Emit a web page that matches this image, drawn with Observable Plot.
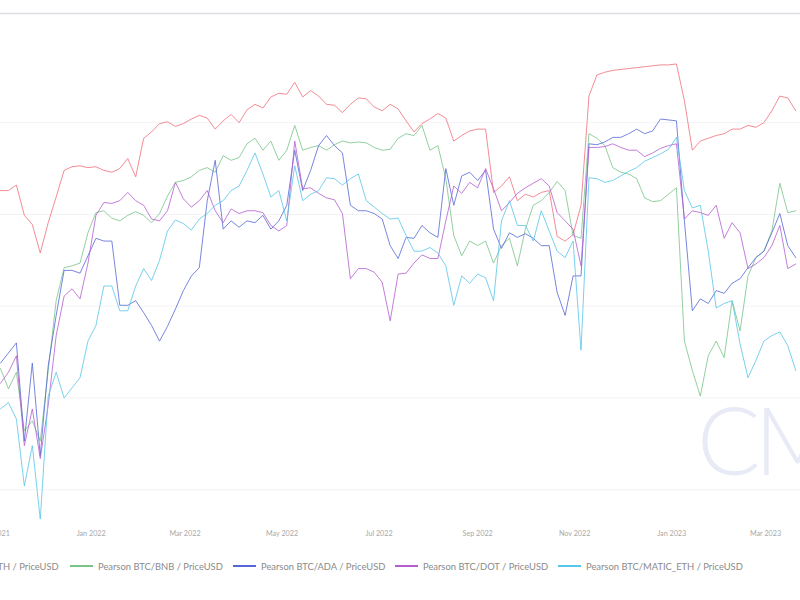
<!DOCTYPE html>
<html><head><meta charset="utf-8">
<script src="https://cdn.jsdelivr.net/npm/d3@7"></script>
<script src="https://cdn.jsdelivr.net/npm/@observablehq/plot@0.6"></script>
<style>
body{margin:0;background:#fff;font-family:Lato,"Open Sans",sans-serif;}
#wrap{position:relative;width:800px;height:600px;overflow:hidden;background:#fff;}
#chart{position:absolute;left:0;top:0;}
.wm{position:absolute;left:697px;top:392px;font-size:94px;line-height:1;font-weight:300;color:#e8eaf6;letter-spacing:-6px;font-family:Lato,sans-serif;pointer-events:none;}
.leg{position:absolute;top:560px;font-size:9.4px;color:#8a8a8a;white-space:nowrap;display:flex;align-items:center;height:12px;}
.leg i{display:inline-block;width:23px;height:2.5px;margin-right:5px;}
</style></head><body>
<div id="wrap"><div id="chart"></div><div class="wm">CM</div></div>
<script>
// Series names and colours
const seriesNames = [
  "Pearson BTC/ETH / PriceUSD",
  "Pearson BTC/BNB / PriceUSD",
  "Pearson BTC/ADA / PriceUSD",
  "Pearson BTC/DOT / PriceUSD",
  "Pearson BTC/MATIC_ETH / PriceUSD"
];
const seriesColors = ["#f06f7c", "#78c489", "#5668d6", "#b45ed0", "#58c6e8"];

// Sampling: one value every 5 days starting 2021-11-05
const startDate = "2021-11-05";
const stepDays = 5;

const ethValues = [0.826,0.826,0.832,0.799,0.789,0.758,0.791,0.819,0.848,0.852,
0.853,0.851,0.852,0.848,0.846,0.850,0.861,0.841,0.883,0.890,
0.899,0.901,0.896,0.899,0.904,0.908,0.905,0.893,0.902,0.909,
0.900,0.914,0.920,0.916,0.928,0.932,0.931,0.944,0.928,0.935,
0.929,0.920,0.919,0.911,0.920,0.927,0.926,0.917,0.913,0.920,
0.915,0.902,0.890,0.899,0.904,0.910,0.905,0.880,0.886,0.891,
0.893,0.893,0.824,0.831,0.841,0.815,0.822,0.819,0.824,0.826,
0.776,0.771,0.778,0.810,0.929,0.952,0.955,0.957,0.958,0.959,
0.960,0.961,0.962,0.963,0.963,0.964,0.924,0.870,0.880,0.883,
0.886,0.888,0.893,0.893,0.897,0.895,0.900,0.913,0.929,0.927,
0.913];

const bnbValues = [0.632,0.610,0.628,0.564,0.575,0.553,0.630,0.706,0.742,0.744,
0.747,0.780,0.802,0.804,0.796,0.793,0.799,0.803,0.799,0.791,
0.801,0.820,0.835,0.837,0.841,0.848,0.851,0.846,0.864,0.859,
0.862,0.877,0.883,0.870,0.880,0.859,0.870,0.897,0.870,0.873,
0.875,0.870,0.876,0.880,0.878,0.879,0.878,0.873,0.870,0.871,
0.883,0.888,0.886,0.897,0.870,0.875,0.839,0.777,0.755,0.771,
0.766,0.771,0.747,0.766,0.774,0.744,0.784,0.810,0.815,0.824,
0.836,0.826,0.777,0.774,0.888,0.883,0.875,0.851,0.846,0.844,
0.839,0.818,0.814,0.815,0.822,0.829,0.662,0.630,0.602,0.646,
0.662,0.644,0.706,0.673,0.733,0.753,0.760,0.782,0.834,0.802,
0.804];

const adaValues = [0.638,0.649,0.660,0.553,0.638,0.537,0.635,0.690,0.739,0.739,
0.736,0.755,0.774,0.771,0.771,0.701,0.701,0.706,0.693,0.679,
0.662,0.678,0.697,0.717,0.733,0.742,0.815,0.859,0.784,0.793,
0.786,0.793,0.791,0.799,0.784,0.793,0.810,0.870,0.826,0.848,
0.875,0.886,0.875,0.867,0.810,0.804,0.804,0.801,0.795,0.766,
0.752,0.775,0.774,0.788,0.780,0.775,0.850,0.810,0.842,0.846,
0.837,0.848,0.784,0.763,0.780,0.775,0.779,0.774,0.766,0.766,
0.715,0.690,0.733,0.733,0.877,0.876,0.879,0.884,0.884,0.888,
0.893,0.888,0.891,0.904,0.903,0.902,0.793,0.695,0.708,0.703,
0.717,0.714,0.725,0.730,0.742,0.753,0.760,0.780,0.801,0.766,
0.753];

const dotValues = [0.616,0.628,0.646,0.548,0.588,0.534,0.592,0.668,0.711,0.719,
0.708,0.747,0.799,0.813,0.812,0.815,0.824,0.815,0.810,0.795,
0.793,0.804,0.835,0.817,0.808,0.815,0.826,0.804,0.791,0.806,
0.801,0.804,0.804,0.802,0.788,0.782,0.788,0.880,0.828,0.829,
0.823,0.818,0.816,0.801,0.730,0.741,0.741,0.737,0.726,0.684,
0.735,0.736,0.747,0.756,0.752,0.752,0.793,0.831,0.823,0.835,
0.829,0.850,0.828,0.804,0.813,0.823,0.829,0.834,0.839,0.831,
0.802,0.793,0.784,0.744,0.873,0.873,0.874,0.877,0.873,0.870,
0.870,0.863,0.867,0.872,0.875,0.877,0.795,0.804,0.802,0.799,
0.810,0.774,0.791,0.780,0.741,0.746,0.753,0.766,0.788,0.741,
0.746];

const maticValues = [0.588,0.595,0.577,0.504,0.548,0.468,0.602,0.628,0.600,0.611,
0.622,0.662,0.679,0.722,0.722,0.695,0.695,0.722,0.741,0.728,
0.750,0.782,0.794,0.790,0.783,0.795,0.801,0.810,0.815,0.826,
0.831,0.848,0.867,0.844,0.819,0.826,0.793,0.853,0.815,0.822,
0.826,0.840,0.839,0.832,0.839,0.844,0.815,0.808,0.801,0.795,
0.796,0.777,0.760,0.760,0.764,0.758,0.744,0.701,0.733,0.725,
0.735,0.731,0.706,0.793,0.815,0.788,0.788,0.771,0.804,0.782,
0.760,0.753,0.771,0.652,0.840,0.839,0.835,0.837,0.842,0.847,
0.851,0.858,0.862,0.866,0.871,0.884,0.826,0.807,0.810,0.760,
0.698,0.703,0.706,0.659,0.622,0.641,0.662,0.668,0.672,0.657,
0.630];

// Axis ticks
const tickDates = ["2021-11-01","2022-01-01","2022-03-01","2022-05-01","2022-07-01","2022-09-01","2022-11-01","2023-01-01","2023-03-01"];
const tickLabels = ["Nov 2021","Jan 2022","Mar 2022","May 2022","Jul 2022","Sep 2022","Nov 2022","Jan 2023","Mar 2023"];
const gridValues = [0.5, 0.6, 0.7, 0.8, 0.9];
const xDomain = ["2021-11-05", "2023-03-23"];
const yDomain = [0.461, 1.019];

// Build table
const allValues = [ethValues, bnbValues, adaValues, dotValues, maticValues];
const t0 = new Date(startDate + "T00:00:00Z");
const rows = [];
allValues.forEach((vals, s) => {
  vals.forEach((v, i) => {
    rows.push({series: seriesNames[s], date: d3.utcDay.offset(t0, i * stepDays), value: v});
  });
});
const tickD = tickDates.map(d => new Date(d + "T00:00:00Z"));
const labelMap = new Map(tickD.map((d, i) => [+d, tickLabels[i]]));

const chart = Plot.plot({
  width: 800,
  height: 545,
  marginLeft: 0,
  marginRight: 0,
  marginTop: 13,
  marginBottom: 20,
  style: {fontSize: "7.2px", color: "#a8a8a8", fontFamily: "Lato, 'Open Sans', sans-serif", background: "transparent"},
  x: {type: "utc", domain: xDomain.map(d => new Date(d + "T00:00:00Z")), ticks: tickD, tickFormat: d => labelMap.get(+d), tickSize: 0, tickPadding: 5, label: null},
  y: {domain: yDomain, axis: null},
  color: {domain: seriesNames, range: seriesColors},
  marks: [
    Plot.ruleY(gridValues, {stroke: "#f3f3f6", strokeWidth: 1}),
    Plot.ruleY([yDomain[1]], {stroke: "#dcdce3", strokeWidth: 1.6}),
    Plot.line(rows, {x: "date", y: "value", z: "series", stroke: "series", strokeWidth: 1, strokeOpacity: 0.8, curve: "linear"})
  ]
});
document.getElementById("chart").appendChild(chart);

// HTML legend
const legendLefts = [-93, 70, 233, 395, 558];
const wrap = document.getElementById("wrap");
seriesNames.forEach((name, i) => {
  const d = document.createElement("div");
  d.className = "leg";
  d.style.left = legendLefts[i] + "px";
  d.innerHTML = `<i style="background:${seriesColors[i]}"></i><span>${name}</span>`;
  wrap.appendChild(d);
});
</script>
</body></html>
